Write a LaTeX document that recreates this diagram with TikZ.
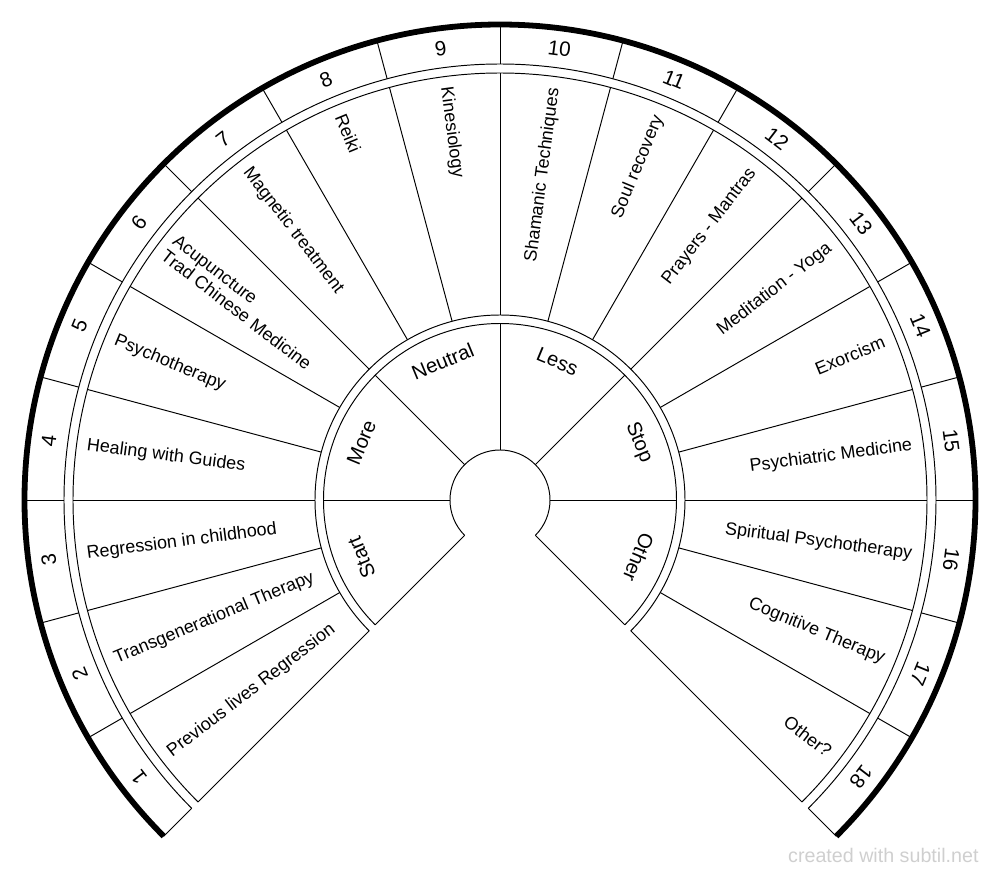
\documentclass[tikz,border=0pt]{standalone}
\usepackage{fontspec}
\setmainfont{Liberation Sans}
\definecolor{wmgray}{HTML}{CFCFCF}
\begin{document}
\begin{tikzpicture}[x=0.02cm,y=0.02cm,line width=0.55pt,
  lbl/.style={inner sep=0pt,font=\fontsize{10.2}{11}\selectfont},
  numlbl/.style={inner sep=0pt,font=\fontsize{11.8}{13}\selectfont},
  grplbl/.style={inner sep=0pt,font=\fontsize{11.5}{13}\selectfont},
  ring/.style={line width=0.55pt},
  rim/.style={line width=3.3pt}]
\useasboundingbox (-500,-376) rectangle (500,500);
% outer thick rim
\draw[rim] (225:475.5) arc[start angle=225,end angle=-45,radius=475.5];
% ring arcs
\foreach \r in {436,427,185,176.5,50}
  \draw[ring] (225:\r) arc[start angle=225,end angle=-45,radius=\r];
% radial lines of number and text rings
\foreach \k in {0,...,18}{
  \pgfmathsetmacro\a{225-15*\k}
  \draw[ring] (\a:436) -- (\a:475.5);
  \draw[ring] (\a:185) -- (\a:427);
}
% radial lines of group ring
\foreach \a in {225,180,...,-45}
  \draw[ring] (\a:50) -- (\a:176.5);
% sector numbers
\foreach \k in {1,...,18}{
  \pgfmathsetmacro\m{232.5-15*\k}
  \node[numlbl,rotate=\m-90] (n\k) at (\m:455) {\k};
}
% left texts
\foreach \k/\t in {1/Previous lives Regression,2/Transgenerational Therapy,3/Regression in childhood,4/Healing with Guides,5/Psychotherapy,6/{Acupuncture\\Trad Chinese Medicine},7/Magnetic treatment,8/Reiki,9/Kinesiology}{
  \pgfmathsetmacro\m{232.5-15*\k}
  \node[lbl,align=left,anchor=west,rotate=\m-180] (t\k) at (\m:417) {\t};
}
% right texts
\foreach \k/\t in {10/Shamanic Techniques,11/Soul recovery,12/Prayers - Mantras,13/Meditation - Yoga,14/Exorcism,15/Psychiatric Medicine,16/Spiritual Psychotherapy,17/Cognitive Therapy,18/Other?}{
  \pgfmathsetmacro\m{232.5-15*\k}
  \node[lbl,align=right,anchor=east,rotate=\m] (t\k) at (\m:416) {\t};
}
% group labels
\foreach \g/\t [count=\i] in {202.5/Start,157.5/More,112.5/Neutral,67.5/Less,22.5/Stop,-22.5/Other}
  \node[grplbl,rotate=\g-90] (g\i) at (\g:150) {\t};
% watermark
\node[anchor=base east,inner sep=0pt,text=wmgray,font=\fontsize{11.2}{13}\selectfont] (wm) at (479,-362) {created with subtil.net};
\end{tikzpicture}
\end{document}
